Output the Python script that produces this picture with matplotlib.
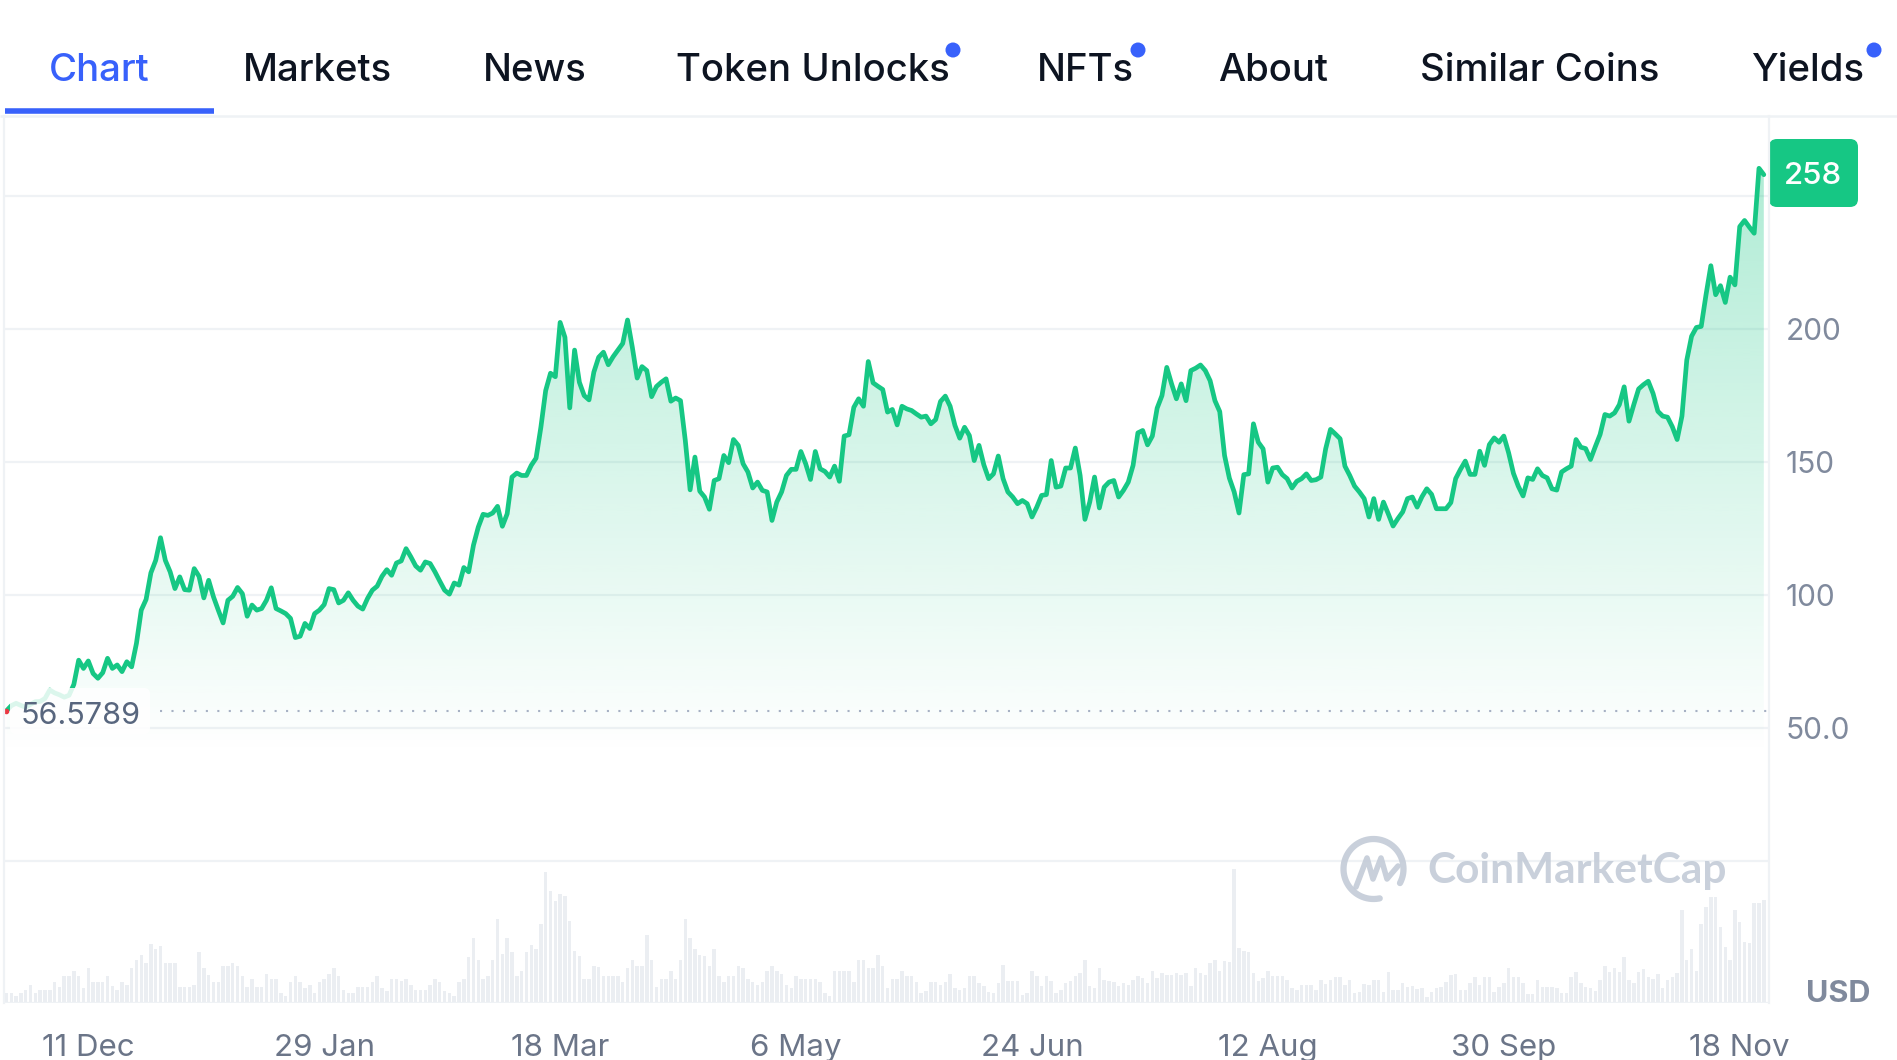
import numpy as np
import pandas as pd
import matplotlib
matplotlib.use("Agg")
import matplotlib.pyplot as plt
import matplotlib.dates as mdates
from matplotlib.colors import to_rgb
from matplotlib.patches import FancyBboxPatch, Circle, Polygon
from matplotlib.transforms import blended_transform_factory

# ---------------- data ----------------
START_DATE = "2023-11-24"

prices = [
    56.5789, 58.5, 59.4, 58.6, 57.9, 59.0, 60.0, 60.1, 61.2, 64.4,
    63.3, 62.6, 61.7, 62.4, 66.5, 75.6, 72.5, 75.3, 70.6, 68.8,
    70.9, 76.3, 72.5, 73.8, 71.3, 75.0, 73.1, 81.9, 94.4, 98.4,
    108.4, 113.1, 121.6, 113.1, 108.8, 102.5, 106.9, 102.1, 101.9, 110.0,
    107.1, 99.0, 105.6, 99.4, 94.4, 89.6, 98.1, 99.6, 102.9, 100.6,
    92.1, 96.3, 94.4, 95.0, 98.1, 102.8, 95.0, 94.1, 93.1, 91.3,
    84.1, 84.6, 89.4, 87.5, 93.1, 94.4, 96.5, 102.5, 102.1, 97.1,
    98.1, 100.9, 98.1, 95.9, 94.8, 98.8, 101.9, 103.4, 107.1, 109.6,
    107.5, 112.1, 112.9, 117.5, 114.4, 111.0, 109.4, 112.5, 111.9, 108.8,
    105.3, 101.9, 100.4, 104.6, 103.8, 110.4, 108.8, 118.8, 125.6, 130.4,
    130.0, 130.9, 133.4, 125.9, 130.6, 144.4, 145.9, 145.0, 145.0, 148.8,
    151.5, 163.1, 176.9, 183.4, 182.1, 202.5, 196.9, 170.4, 192.1, 180.0,
    175.0, 173.4, 183.8, 189.4, 191.3, 186.6, 189.6, 192.1, 194.6, 203.4,
    193.1, 181.6, 185.9, 184.4, 174.6, 178.4, 180.0, 181.3, 172.9, 174.1,
    173.1, 158.1, 139.6, 151.9, 139.1, 136.9, 132.3, 143.1, 143.8, 152.5,
    149.8, 158.5, 156.3, 149.4, 146.3, 140.3, 142.5, 139.4, 138.8, 128.1,
    135.0, 138.8, 145.0, 147.3, 147.3, 154.0, 149.4, 143.5, 154.0, 147.5,
    146.5, 144.4, 148.5, 142.8, 159.8, 160.3, 170.6, 173.8, 171.0, 187.8,
    179.8, 178.5, 177.3, 168.8, 169.8, 164.0, 171.0, 170.0, 169.4, 168.1,
    166.9, 167.3, 164.4, 166.0, 172.8, 174.8, 171.0, 163.8, 159.0, 163.1,
    160.0, 150.6, 156.3, 149.0, 143.8, 145.6, 152.3, 143.8, 138.8, 136.9,
    134.4, 135.6, 134.4, 129.4, 133.1, 137.5, 137.8, 150.6, 140.6, 141.0,
    147.8, 147.8, 155.3, 145.0, 128.5, 135.0, 144.4, 132.8, 140.6, 142.5,
    143.1, 136.9, 139.4, 142.5, 148.8, 161.0, 161.9, 156.5, 159.8, 170.3,
    175.0, 185.6, 179.4, 173.8, 179.4, 173.1, 184.4, 185.3, 186.5, 184.4,
    180.6, 173.1, 169.0, 152.5, 144.0, 138.8, 130.9, 145.3, 145.6, 164.4,
    157.5, 155.0, 142.5, 147.8, 148.1, 145.3, 143.8, 140.3, 142.8, 143.8,
    145.6, 143.1, 143.4, 144.4, 155.0, 162.3, 160.6, 158.8, 148.5, 145.0,
    141.0, 138.8, 136.3, 129.4, 136.3, 128.5, 135.0, 130.6, 126.0, 128.8,
    131.3, 136.3, 136.9, 133.1, 137.0, 140.0, 137.9, 132.5, 132.5, 132.5,
    134.8, 143.8, 147.3, 150.4, 145.4, 145.4, 154.1, 148.8, 156.6, 159.1,
    157.5, 159.8, 153.5, 145.8, 141.0, 137.3, 144.1, 143.5, 147.5, 145.0,
    144.1, 140.0, 139.5, 146.3, 147.5, 148.5, 158.5, 155.6, 155.1, 151.0,
    155.8, 160.4, 167.9, 167.3, 168.5, 171.6, 178.3, 165.4, 171.6, 177.5,
    179.1, 180.4, 175.8, 169.1, 167.3, 166.9, 163.3, 158.5, 167.3, 188.3,
    197.3, 200.6, 201.0, 212.9, 223.8, 212.9, 216.3, 210.0, 219.5, 216.6,
    238.5, 240.8, 238.3, 236.0, 260.4, 258.0,
]

# daily volume (relative units, millions USD)
volumes = [
    10, 10, 7, 10, 13, 18, 10, 13, 13, 13, 21, 16, 27, 27, 32, 27, 15, 35, 21, 21,
    21, 27, 17, 13, 21, 18, 35, 43, 48, 40, 59, 54, 57, 40, 40, 40, 16, 16, 16, 18,
    51, 35, 28, 21, 21, 37, 37, 40, 37, 27, 16, 24, 16, 16, 29, 24, 24, 10, 7, 21,
    27, 21, 15, 18, 10, 21, 24, 29, 35, 27, 13, 10, 10, 16, 16, 16, 21, 27, 15, 12,
    24, 24, 22, 24, 18, 13, 13, 13, 18, 24, 21, 12, 10, 7, 21, 24, 46, 65, 43, 24,
    27, 43, 84, 49, 65, 51, 27, 32, 51, 58, 54, 79, 131, 112, 102, 109, 107, 82, 52, 47,
    24, 24, 37, 36, 27, 27, 27, 27, 21, 35, 43, 37, 37, 68, 43, 16, 24, 24, 32, 24,
    43, 84, 65, 54, 48, 47, 37, 54, 27, 21, 27, 27, 37, 35, 24, 21, 18, 21, 32, 37,
    32, 29, 18, 15, 27, 24, 24, 24, 24, 21, 10, 7, 32, 32, 32, 32, 21, 43, 43, 35,
    35, 48, 37, 15, 24, 24, 32, 27, 27, 21, 10, 12, 21, 21, 18, 21, 29, 15, 13,
    15, 27, 27, 20, 17, 11, 10, 20, 38, 22, 22, 22, 8, 10, 32, 27, 17, 27, 22, 10,
    13, 20, 22, 27, 30, 43, 17, 15, 35, 23, 22, 21, 17, 20, 18, 23, 27, 25, 20, 32,
    25, 30, 28, 28, 30, 28, 30, 17, 35, 30, 28, 40, 43, 32, 42, 41, 134, 55, 52, 51,
    30, 22, 25, 32, 27, 27, 27, 23, 15, 13,
    18, 18, 18, 13, 23, 19, 23, 26, 26, 18, 23, 10, 11, 19, 18, 23, 23, 11, 31, 13,
    13, 20, 16, 17, 14, 15, 6, 11, 15, 16, 21, 28, 29, 13, 13, 20, 26, 18, 26, 26,
    11, 16, 20, 35, 26, 26, 20, 9, 9, 23, 16, 16, 16, 15, 10, 10, 26, 31, 20, 16,
    15, 12, 23, 37, 31, 35, 31, 46, 23, 20, 31, 34, 26, 24, 29, 15, 23, 26, 30,
    93, 43, 54, 32, 79, 96, 106, 106, 76, 56, 43, 93, 81, 61, 60, 100, 100, 103,
]

tabs = ["Chart", "Markets", "News", "Token Unlocks", "NFTs", "About", "Similar Coins", "Yields"]
tab_has_dot = [False, False, False, True, True, False, False, True]
x_tick_dates = ["2023-12-11", "2024-01-29", "2024-03-18", "2024-05-06",
                "2024-06-24", "2024-08-12", "2024-09-30", "2024-11-18"]
x_tick_labels = ["11 Dec", "29 Jan", "18 Mar", "6 May", "24 Jun", "12 Aug", "30 Sep", "18 Nov"]
y_ticks = [50, 100, 150, 200]
y_tick_labels = ["50.0", "100", "150", "200"]
grid_values = [0, 50, 100, 150, 200, 250]

# ---------------- style ----------------
GREEN = "#16C784"
BLUE = "#3861FB"
DARK = "#0D1421"
GRID = "#EFF2F5"
GRAY = "#808A9D"
FONT = ["Inter", "DejaVu Sans"]
plt.rcParams["font.family"] = FONT

W, H = 1897, 1060
fig = plt.figure(figsize=(W / 100, H / 100), dpi=100)
fig.patch.set_facecolor("white")


def rect(x0, y0, x1, y1):
    return [x0 / W, 1 - y1 / H, (x1 - x0) / W, (y1 - y0) / H]


dates = pd.date_range(START_DATE, periods=len(prices), freq="D")
xnum = mdates.date2num(dates.to_pydatetime())
prices_arr = np.array(prices)
x_left = xnum[0] - 0.3
x_right = xnum[0] + 366.08

# ---------------- volume axes ----------------
axv = fig.add_axes(rect(5, 861.4, 1769, 1003))
axv.bar(xnum, volumes, width=0.72, color="#EBEEF2", zorder=1)
axv.axhline(0, color=GRID, lw=1.6, zorder=2)
axv.set_xlim(x_left, x_right)
axv.set_ylim(0, max(volumes) * 1.057)
axv.axis("off")

# ---------------- price axes ----------------
ax = fig.add_axes(rect(5, 116, 1769, 1003))
ax.set_facecolor("none")
for g in grid_values:
    ax.axhline(g, color=GRID, lw=1.6, zorder=0)

base = 0.0
top = 280.0
verts = [(xnum[0], base)] + list(zip(xnum, prices_arr)) + [(xnum[-1], base)]
poly = Polygon(verts, closed=True, facecolor="none", edgecolor="none")
ax.add_patch(poly)
vals = np.linspace(base, top, 400)
alpha = np.clip((vals - 40) / (260 - 40) * 0.34, 0, 0.45)
rgba = np.zeros((400, 1, 4))
rgba[..., :3] = to_rgb(GREEN)
rgba[:, 0, 3] = alpha
im = ax.imshow(rgba, extent=[xnum[0], xnum[-1], base, top], origin="lower",
               aspect="auto", zorder=1, interpolation="bilinear")
im.set_clip_path(poly)

ax.plot(xnum, prices_arr, color=GREEN, lw=3.4, solid_joinstyle="round",
        solid_capstyle="round", zorder=3)
ax.plot(xnum[0], prices_arr[0], "o", color="#EA3943", ms=3, zorder=4)
ax.axhline(prices_arr[0], xmin=(160 - 5) / 1764, xmax=1, color="#A6B0C3",
           lw=1.5, ls=(0, (1, 4.5)), zorder=2)

ax.set_xlim(x_left, x_right)
ax.set_ylim(-53.2, 280.05)
for s in ax.spines.values():
    s.set_visible(False)
ax.set_xticks([])
ax.yaxis.tick_right()
ax.set_yticks(y_ticks)
ax.set_yticklabels(y_tick_labels)
ax.tick_params(axis="y", length=0, pad=12.2, labelsize=21.5, labelcolor=GRAY)

# x labels
tr = blended_transform_factory(ax.transData, fig.transFigure)
for d, lab in zip(x_tick_dates, x_tick_labels):
    ax.text(mdates.date2num(pd.Timestamp(d).to_pydatetime()), 1 - 1048.5 / H, lab,
            transform=tr, ha="center", va="center", fontsize=22.5, color="#6B7588",
            clip_on=False)

# ---------------- overlay ----------------
ov = fig.add_axes([0, 0, 1, 1], zorder=10)
ov.set_xlim(0, W)
ov.set_ylim(H, 0)
ov.axis("off")

# tabs
tab_x = [49, 243, 483, 676, 1037, 1218, 1420, 1751]
dot_x = [None, None, None, 953, 1138, None, None, 1874]
for i, (t, x) in enumerate(zip(tabs, tab_x)):
    ov.text(x, 81, t, ha="left", va="baseline", fontsize=27.6, fontweight="medium",
            color=BLUE if i == 0 else DARK)
    if tab_has_dot[i]:
        ov.add_patch(Circle((dot_x[i], 50), 7.5, color=BLUE, lw=0))
ov.plot([0, W], [115.5, 115.5], color=GRID, lw=1.8, solid_capstyle="butt")
ov.plot([5, 214], [110.5, 110.5], color=BLUE, lw=4, solid_capstyle="butt")

# borders
ov.plot([4, 4], [116, 1003], color=GRID, lw=1.6)
ov.plot([1769, 1769], [116, 1003], color=GRID, lw=1.6)

# current price badge
ov.add_patch(FancyBboxPatch((1769, 139), 89, 68,
                            boxstyle="round,pad=0,rounding_size=8",
                            facecolor=GREEN, edgecolor="none"))
ov.text(1813.5, 175.5, f"{prices[-1]:.0f}", ha="center", va="center",
        fontsize=22.5, fontweight="medium", color="white")

# start price label
ov.add_patch(FancyBboxPatch((10, 688), 140, 46,
                            boxstyle="round,pad=0,rounding_size=6",
                            facecolor="white", edgecolor="none", alpha=0.85))
ov.text(21, 716.5, f"{prices[0]:.4f}", ha="left", va="center",
        fontsize=22, color="#58667E")

# USD
ov.text(1838, 993.5, "USD", ha="center", va="center", fontsize=22,
        fontweight="bold", color=GRAY)

# watermark
wm = "#C3CBD7"
phi = np.radians(np.linspace(-28, 282, 200))
cx, cy, r = 1373.5, 869, 30
ov.plot(cx + r * np.cos(phi), cy - r * np.sin(phi), color=wm, lw=4.5,
        solid_capstyle="round", alpha=0.9)
zx = [1356, 1367, 1373, 1381, 1387, 1392, 1398]
zy = [887, 858, 879, 858, 879, 873, 866]
ov.plot(zx, zy, color=wm, lw=4, solid_joinstyle="round", solid_capstyle="round", alpha=0.9)
ov.text(1427, 871, "CoinMarketCap", ha="left", va="center", fontsize=30.5,
        fontweight="bold", color=wm, alpha=0.9, family=["Lato", "DejaVu Sans"])

fig.savefig("out.png", dpi=100, facecolor="white")
